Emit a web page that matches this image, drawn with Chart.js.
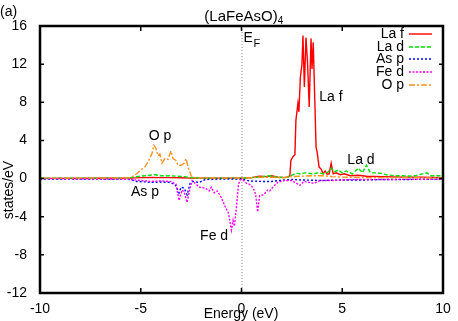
<!DOCTYPE html>
<html>
<head>
<meta charset="utf-8">
<script src="https://cdn.jsdelivr.net/npm/chart.js@4/dist/chart.umd.min.js"></script>
<style>
  body { margin: 0; background: #fff; }
  canvas { display: block; }
</style>
</head>
<body>
<canvas id="dosChart" width="458" height="321"></canvas>
<script>
// projected DOS of (LaFeAsO)4, energies in eV, spin-down parts plotted negative
const seriesNames = ["La f", "La d", "As p", "Fe d", "O p"];
const xTicks = [-10, -5, 0, 5, 10];
const yTicks = [-12, -8, -4, 0, 4, 8, 12, 16];

const laF_E = [-10, -7, -5.5, -5, -4.5, -4, -3.5, -3, -2.5, -2, -1, 0, 0.5, 0.9, 1.2, 1.5, 1.8, 2.1, 2.3, 2.4, 2.45, 2.55, 2.65, 2.7, 2.8, 2.85, 2.92, 3.0, 3.05, 3.12, 3.2, 3.28, 3.36, 3.45, 3.5, 3.56, 3.62, 3.7, 3.76, 3.85, 3.95, 4.05, 4.15, 4.25, 4.35, 4.45, 4.55, 4.7, 4.9, 5.1, 5.4, 5.8, 6.2, 7, 8, 9, 10];
const laF = [0.02, 0.03, 0.05, 0.1, 0.12, 0.1, 0.1, 0.08, 0.05, 0.05, 0.05, 0.05, 0.1, 0.25, 0.2, 0.3, 0.15, 0.1, 0.15, 0.3, 1.9, 2.3, 2.5, 6.1, 7.9, 7.0, 10.6, 12.0, 15.0, 9.6, 14.8, 12.1, 7.5, 14.7, 11.5, 14.3, 9.6, 3.3, 2.7, 1.2, 1.0, 0.5, 0.8, 0.45, 0.5, 1.6, 0.5, 0.6, 0.4, 0.5, 0.3, 0.35, 0.25, 0.2, 0.15, 0.15, 0.1];

const laD_E = [-10, -8, -6, -5.5, -5.2, -4.8, -4.3, -4.0, -3.6, -3.2, -2.8, -2.5, -2, -1, 0, 0.5, 1.0, 1.4, 1.8, 2.2, 2.5, 2.7, 2.9, 3.2, 3.5, 3.8, 4.1, 4.3, 4.45, 4.6, 4.8, 5.0, 5.2, 5.5, 5.8, 6.0, 6.2, 6.4, 6.7, 6.9, 7.2, 7.6, 8.0, 8.5, 8.8, 9.2, 9.4, 9.7, 10];
const laD = [0.05, 0.05, 0.05, 0.1, 0.2, 0.3, 0.4, 0.3, 0.3, 0.25, 0.2, 0.1, 0.05, 0.05, 0.05, 0.1, 0.2, 0.3, 0.15, 0.1, 0.35, 0.55, 0.5, 0.6, 0.5, 0.6, 0.5, 0.7, 1.1, 0.7, 0.9, 0.6, 0.8, 0.5, 1.1, 0.6, 1.4, 0.6, 0.6, 0.55, 0.4, 0.3, 0.3, 0.25, 0.4, 0.6, 0.3, 0.3, 0.3];

const asP_E = [-10, -6, -5.5, -5.2, -4.8, -4.4, -4.0, -3.6, -3.3, -3.1, -3.0, -2.85, -2.7, -2.55, -2.4, -2.1, -1.8, -1, 0, 0.4, 1.0, 1.5, 1.9, 2.5, 3, 4, 5, 6, 7, 8, 10];
const asP = [-0.05, -0.05, -0.1, -0.3, -0.35, -0.4, -0.35, -0.4, -0.6, -1.5, -0.9, -1.0, -1.7, -0.5, -0.3, -0.4, -0.1, -0.05, -0.05, -0.25, -0.3, -0.3, -0.2, -0.1, -0.15, -0.2, -0.15, -0.15, -0.1, -0.1, -0.05];

const feD_E = [-10, -6, -5.5, -5.0, -4.5, -4.0, -3.5, -3.25, -3.1, -2.95, -2.85, -2.7, -2.55, -2.45, -2.35, -2.1, -1.8, -1.6, -1.5, -1.35, -1.2, -1.0, -0.8, -0.65, -0.5, -0.42, -0.35, -0.25, -0.15, -0.05, 0.1, 0.25, 0.4, 0.55, 0.7, 0.8, 0.9, 1.1, 1.3, 1.4, 1.6, 1.8, 2.1, 2.5, 2.9, 3.1, 3.6, 3.9, 4.5, 5.5, 7, 10];
const feD = [0, -0.05, -0.1, -0.2, -0.3, -0.25, -0.3, -0.6, -2.3, -1.2, -1.4, -2.5, -1.0, -0.2, -0.4, -0.9, -1.0, -1.3, -0.9, -1.5, -1.3, -2.0, -3.0, -3.6, -5.4, -4.4, -5.0, -3.0, -0.6, -0.1, -0.2, -0.5, -0.6, -0.9, -1.6, -3.5, -1.8, -1.7, -1.2, -1.3, -0.8, -0.4, -0.2, -0.2, -0.7, -0.3, -0.5, -0.2, -0.2, -0.1, -0.1, -0.05];

const oP_E = [-10, -6, -5.5, -5.35, -5.2, -5.0, -4.8, -4.6, -4.45, -4.35, -4.25, -4.15, -4.05, -3.95, -3.8, -3.65, -3.5, -3.4, -3.25, -3.15, -3.0, -2.85, -2.75, -2.65, -2.5, -2.4, -2, 0, 1, 2, 2.5, 3.0, 3.5, 4.0, 4.5, 5, 6, 8, 10];
const oP = [0.05, 0.05, 0.1, 0.3, 0.5, 0.9, 1.2, 1.9, 2.6, 3.5, 3.2, 2.4, 2.6, 1.6, 2.1, 2.0, 2.9, 2.1, 1.9, 1.4, 1.4, 1.6, 2.1, 1.2, 0.3, 0.1, 0.05, 0.05, 0.15, 0.1, 0.2, 0.25, 0.3, 0.3, 0.2, 0.15, 0.1, 0.1, 0.05];

const FONT = "Liberation Sans, Arial, sans-serif";
const colors = ["#ff0000", "#00dd00", "#0000ff", "#ff00ff", "#ff9020"];
const dashes = [[], [4, 2], [2, 2], [2, 1.5], [6, 2, 2, 2]];
const energies = [laF_E, laD_E, asP_E, feD_E, oP_E];
const values = [laF, laD, asP, feD, oP];

function points(xs, ys) {
  return xs.map((x, i) => ({ x: x, y: ys[i] }));
}

// frame, inner ticks, labels, legend, titles
const decor = {
  id: "decor",
  beforeDatasetsDraw(chart) {
    const { ctx, chartArea: a, scales: { x } } = chart;
    const x0 = x.getPixelForValue(0);
    ctx.save();
    ctx.strokeStyle = "#888";
    ctx.lineWidth = 1;
    ctx.setLineDash([1, 2]);
    ctx.beginPath();
    ctx.moveTo(x0 + 0.5, a.top);
    ctx.lineTo(x0 + 0.5, a.bottom);
    ctx.stroke();
    ctx.restore();
  },
  afterDraw(chart) {
    const { ctx, chartArea: a, scales: { x, y } } = chart;
    ctx.save();
    ctx.strokeStyle = "#000";
    ctx.lineWidth = 2.5;
    ctx.strokeRect(a.left, a.top, a.right - a.left, a.bottom - a.top);
    ctx.lineWidth = 1.5;
    ctx.beginPath();
    xTicks.forEach(v => {
      const px = x.getPixelForValue(v);
      ctx.moveTo(px, a.bottom); ctx.lineTo(px, a.bottom - 5);
      ctx.moveTo(px, a.top); ctx.lineTo(px, a.top + 5);
    });
    yTicks.forEach(v => {
      const py = y.getPixelForValue(v);
      ctx.moveTo(a.left, py); ctx.lineTo(a.left + 4, py);
      ctx.moveTo(a.right, py); ctx.lineTo(a.right - 4, py);
    });
    ctx.stroke();

    ctx.fillStyle = "#000";
    ctx.font = "14px " + FONT;
    ctx.textBaseline = "middle";
    ctx.textAlign = "center";
    const tag = (txt, ex, ey) => ctx.fillText(txt, x.getPixelForValue(ex), y.getPixelForValue(ey));
    tag("O p", -4.04, 4.45);
    tag("As p", -4.79, -1.42);
    tag("Fe d", -1.36, -6.03);
    tag("La f", 4.44, 8.54);
    tag("La d", 5.93, 1.94);

    // E_F
    ctx.textAlign = "left";
    ctx.textBaseline = "alphabetic";
    const ex = x.getPixelForValue(0) + 2;
    ctx.fillText("E", ex, 42);
    ctx.font = "11px " + FONT;
    ctx.fillText("F", ex + 10, 47);

    // title
    ctx.font = "15px " + FONT;
    const t = "(LaFeAsO)";
    const tw = ctx.measureText(t).width;
    const tx = 241 - tw / 2;
    ctx.fillText(t, tx, 21);
    ctx.font = "10px " + FONT;
    ctx.fillText("4", tx + tw, 24);
    ctx.font = "14px " + FONT;
    ctx.fillText("(a)", 0, 16);

    // axis titles
    ctx.textAlign = "center";
    ctx.fillText("Energy (eV)", 241, 318);
    ctx.save();
    ctx.translate(9, 190);
    ctx.rotate(-Math.PI / 2);
    ctx.textBaseline = "middle";
    ctx.fillText("states/eV", 0, 0);
    ctx.restore();

    // legend
    const rows = [34, 47, 59, 72, 85];
    ctx.textAlign = "right";
    ctx.textBaseline = "middle";
    seriesNames.forEach((name, i) => {
      ctx.fillStyle = "#000";
      ctx.fillText(name, 404, rows[i]);
      ctx.strokeStyle = colors[i];
      ctx.lineWidth = 1.4;
      ctx.setLineDash(dashes[i]);
      ctx.beginPath();
      ctx.moveTo(409, rows[i]);
      ctx.lineTo(432, rows[i]);
      ctx.stroke();
    });
    ctx.restore();
  }
};

new Chart(document.getElementById("dosChart"), {
  type: "line",
  data: {
    datasets: seriesNames.map((name, i) => ({
      label: name,
      data: points(energies[i], values[i]),
      borderColor: colors[i],
      borderWidth: 1.4,
      borderDash: dashes[i],
      pointRadius: 0,
      tension: 0,
      fill: false,
      order: seriesNames.length - i,
    })),
  },
  options: {
    responsive: false,
    animation: false,
    layout: { padding: { left: 0, right: 15, top: 26, bottom: 0 } },
    plugins: {
      legend: { display: false },
      tooltip: { enabled: false },
    },
    scales: {
      x: {
        type: "linear",
        min: -10,
        max: 10,
        grid: { display: false },
        border: { display: false },
        ticks: {
          stepSize: 5,
          padding: 0,
          color: "#000",
          font: { family: FONT, size: 14 },
        },
        afterFit(s) { s.height = 28; },
      },
      y: {
        min: -12,
        max: 16,
        grid: { display: false },
        border: { display: false },
        ticks: {
          stepSize: 4,
          padding: 5,
          color: "#000",
          font: { family: FONT, size: 14 },
        },
        afterFit(s) { s.width = 40; },
      },
    },
  },
  plugins: [decor],
});
</script>
</body>
</html>
